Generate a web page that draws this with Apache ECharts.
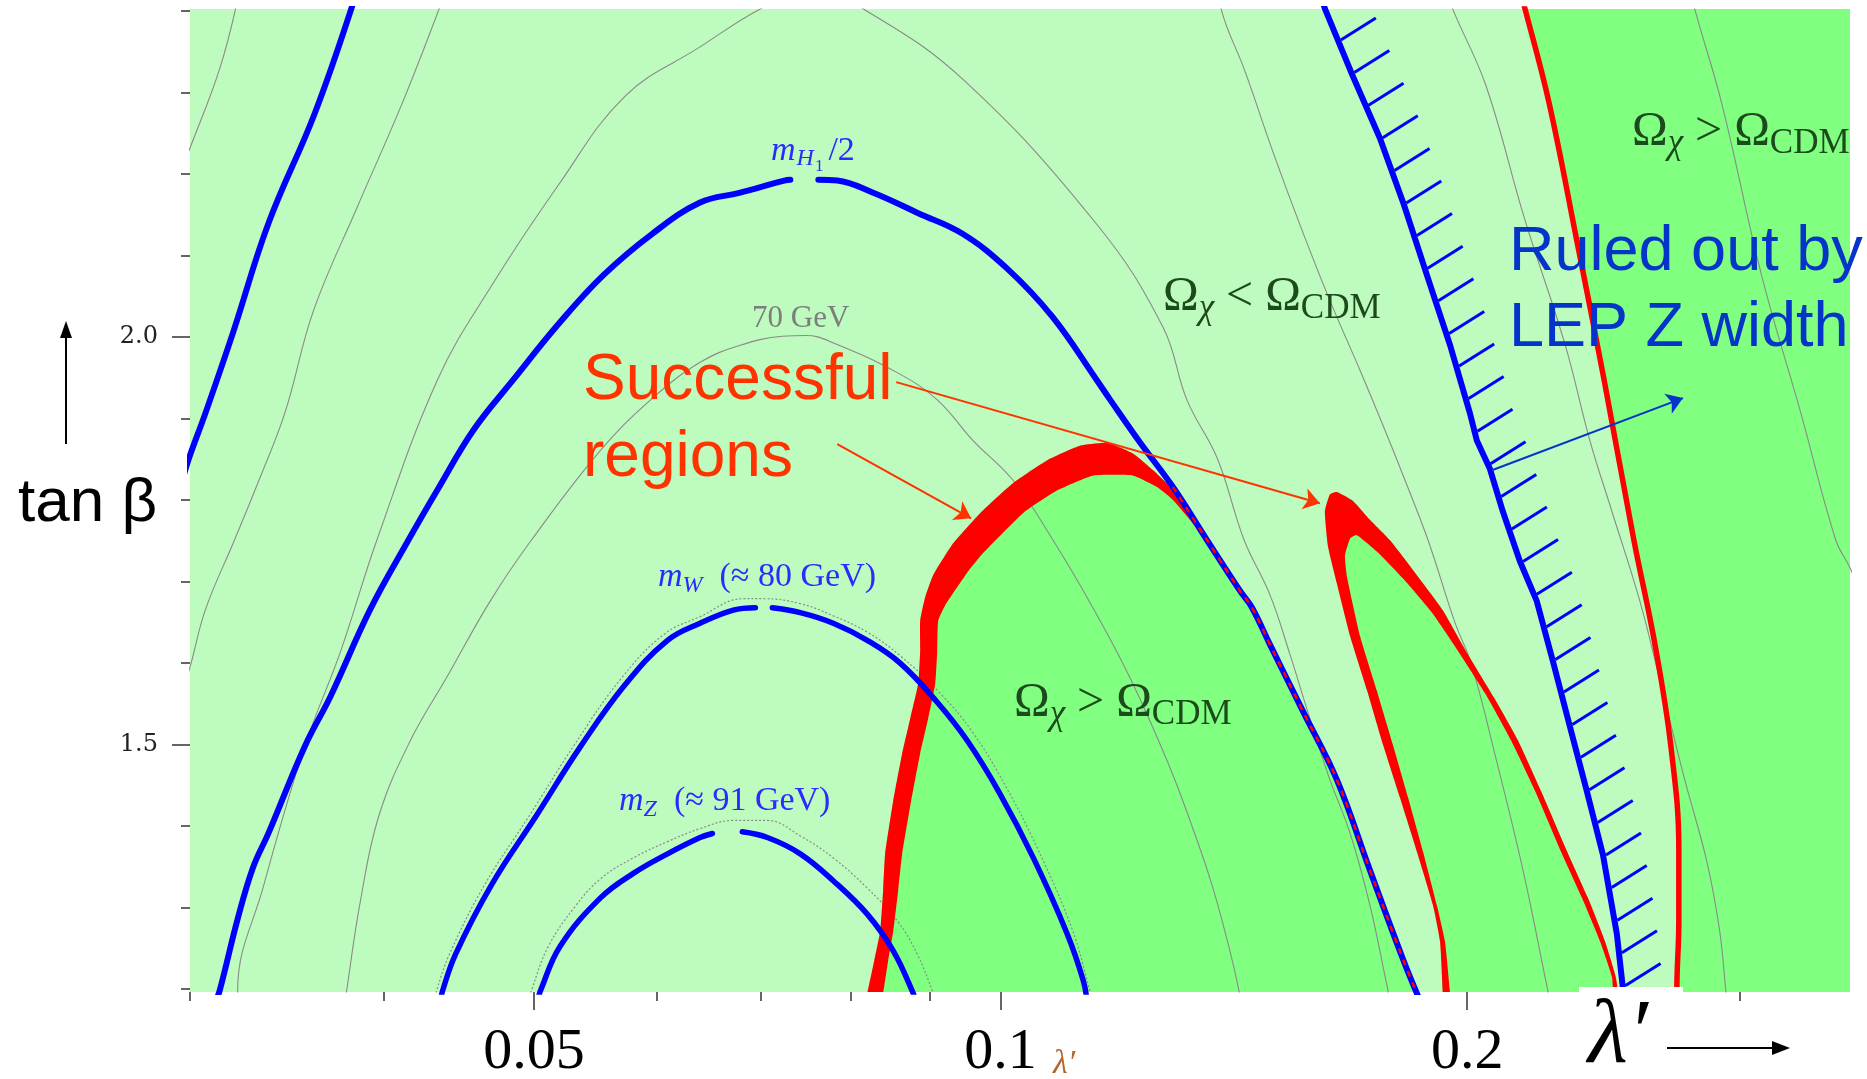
<!DOCTYPE html>
<html><head><meta charset="utf-8">
<script src="https://cdn.jsdelivr.net/npm/echarts@6/dist/echarts.min.js"></script>
<style>html,body{margin:0;padding:0;background:#fff}#c{width:1867px;height:1079px}</style>
</head><body><div id="c"></div>
<script>
// ---------- axis ticks ----------
const xTickValues = [0.03,0.04,0.05,0.06,0.07,0.08,0.09,0.1,0.2,0.3];
const xMajorTicks = [0.05,0.1,0.2];
const xTickLabels = ['0.05','0.1','0.2'];
const yTickValues = [1.2,1.3,1.4,1.5,1.6,1.7,1.8,1.9,2.0,2.1,2.2,2.3,2.4];
const yMajorTicks = [1.5,2.0];
const yTickLabels = ['1.5','2.0'];
const X_MIN = 0.03, X_MAX = 0.3532, Y_MIN = 1.1965, Y_MAX = 2.4025;

// ---------- curves: [lambda', tan beta] ----------
const blueB1 = [[0.0382,2.408],[0.0361,2.274],[0.0337,2.139],[0.0320,2.007],[0.0307,1.907],[0.0300,1.855],[0.02972,1.830]];
const blueMH = [[0.03116,1.1855],[0.03135,1.198],[0.0322,1.286],[0.03294,1.349],[0.03372,1.392],[0.03557,1.4975],[0.03698,1.560],[0.03921,1.666],[0.0415,1.751],[0.04334,1.813],[0.04571,1.886],[0.04851,1.948],[0.05186,2.016],[0.05544,2.076],[0.05964,2.127],[0.0640,2.165],[0.06784,2.177],[0.07253,2.192],[0.07318,2.193],null,[0.07629,2.193],[0.07847,2.192],[0.08277,2.177],[0.08849,2.152],[0.09446,2.127],[0.1010,2.084],[0.1080,2.025],[0.1153,1.948],[0.1177,1.923],[0.1231,1.870],[0.1292,1.816],[0.1359,1.751],[0.1427,1.689],[0.1453,1.668],[0.1492,1.623],[0.1567,1.541],[0.1648,1.457],[0.1731,1.346],[0.1818,1.237],[0.1865,1.1855]];
const blueMW = [[0.04353,1.1855],[0.04366,1.198],[0.04451,1.243],[0.04695,1.328],[0.05019,1.413],[0.05358,1.4975],[0.05728,1.574],[0.06098,1.628],[0.0640,1.649],[0.06724,1.665],[0.06948,1.668],null,[0.07125,1.668],[0.07427,1.662],[0.0780,1.649],[0.08204,1.628],[0.08615,1.600],[0.09103,1.552],[0.09517,1.505],[0.0999,1.440],[0.1050,1.361],[0.1104,1.268],[0.1131,1.210],[0.1137,1.1855]];
const blueMZ = [[0.05027,1.1855],[0.05049,1.198],[0.0520,1.253],[0.0552,1.312],[0.05796,1.342],[0.06098,1.366],[0.0640,1.386],[0.06518,1.391],null,[0.06814,1.393],[0.07073,1.386],[0.07427,1.366],[0.0780,1.333],[0.08204,1.292],[0.08527,1.247],[0.08783,1.195],[0.0881,1.1855]];
const blueZW = [[0.1612,2.414],[0.1619,2.403],[0.1686,2.322],[0.1757,2.244],[0.1821,2.162],[0.1884,2.076],[0.1950,1.990],[0.2008,1.907],[0.2029,1.873],[0.2069,1.838],[0.2109,1.786],[0.2163,1.725],[0.2218,1.676],[0.2272,1.602],[0.2330,1.522],[0.2389,1.443],[0.2447,1.365],[0.2498,1.268],[0.2520,1.203],[0.2524,1.1855]];
const redRight = [[0.2170,2.414],[0.2180,2.402],[0.2259,2.287],[0.2354,2.118],[0.2451,1.948],[0.2562,1.751],[0.2643,1.624],[0.2707,1.4975],[0.2739,1.371],[0.2739,1.284],[0.2731,1.198],[0.2731,1.1855]];
const rightEdge = [[0.36,1.18],[0.36,2.42]];
const redArchOuter = [[0.08167,1.1855],[0.08204,1.195],[0.0829,1.235],[0.08363,1.271],[0.0840,1.321],[0.08425,1.366],[0.08527,1.431],[0.08641,1.489],[0.08745,1.532],[0.08849,1.575],[0.08875,1.615],[0.08875,1.652],[0.08942,1.681],[0.09049,1.708],[0.09321,1.747],[0.09702,1.784],[0.1019,1.821],[0.1072,1.849],[0.1126,1.867],[0.1172,1.870],[0.1218,1.857],[0.1254,1.837],[0.1287,1.816]];
const redArchInner = [[0.08363,1.1855],[0.0840,1.195],[0.08463,1.235],[0.08527,1.271],[0.0859,1.321],[0.08641,1.366],[0.08757,1.431],[0.08875,1.489],[0.08981,1.532],[0.09076,1.575],[0.09103,1.615],[0.09116,1.652],[0.09211,1.671],[0.09321,1.686],[0.09517,1.711],[0.09745,1.735],[0.1034,1.784],[0.1088,1.812],[0.1147,1.830],[0.1218,1.830],[0.1262,1.816],[0.1292,1.800],[0.1359,1.751]];
const loopOuter = [[0.1929,1.1855],[0.1929,1.195],[0.1921,1.259],[0.1901,1.303],[0.1856,1.369],[0.1810,1.435],[0.1765,1.500],[0.1724,1.566],[0.1681,1.633],[0.1648,1.698],[0.1627,1.742],[0.1619,1.786],[0.1631,1.807],[0.1648,1.810],[0.1688,1.799],[0.1731,1.776],[0.1783,1.751],[0.1851,1.711],[0.1929,1.665],[0.2002,1.611],[0.2081,1.558],[0.2157,1.505],[0.2232,1.443],[0.2320,1.369],[0.2393,1.312],[0.2454,1.259],[0.2494,1.215],[0.2505,1.1855]];
const loopInner = [[0.1952,1.1855],[0.1950,1.195],[0.1935,1.259],[0.1912,1.303],[0.1873,1.369],[0.1832,1.435],[0.1791,1.500],[0.1749,1.566],[0.1706,1.633],[0.1673,1.706],[0.1668,1.732],[0.1681,1.753],[0.1698,1.757],[0.1749,1.737],[0.1818,1.704],[0.1898,1.662],[0.1973,1.615],[0.2054,1.563],[0.2135,1.505],[0.2215,1.441],[0.2299,1.369],[0.2372,1.312],[0.2436,1.259],[0.2480,1.215],[0.2487,1.1855]];
const greyG1 = [[0.0322,2.414],[0.03135,2.329],[0.0300,2.232],[0.02977,2.217]];
const greyG2 = [[0.04366,2.414],[0.04112,2.287],[0.03847,2.160],[0.03605,2.033],[0.03454,1.907],[0.03323,1.824],[0.03205,1.751],[0.0307,1.666],[0.0300,1.595],[0.02977,1.576]];
const greyG3 = [[0.03235,1.1855],[0.0322,1.198],[0.03348,1.328],[0.03557,1.4975],[0.03753,1.615],[0.0396,1.751],[0.04334,1.948],[0.04695,2.063],[0.05183,2.186],[0.05728,2.296],[0.0640,2.356],[0.06989,2.402],[0.07561,2.429],[0.08167,2.402],[0.09446,2.317],[0.1153,2.139],[0.1273,2.012],[0.1319,1.923],[0.1380,1.851],[0.1436,1.751],[0.1492,1.684],[0.1537,1.611],[0.1584,1.531],[0.1631,1.457],[0.1681,1.391],[0.1731,1.303],[0.1776,1.203],[0.1783,1.1855]];
const grey70 = [[0.0378,1.1855],[0.03786,1.198],[0.03864,1.308],[0.03972,1.413],[0.04162,1.505],[0.04391,1.582],[0.04689,1.677],[0.04982,1.751],[0.0552,1.861],[0.05947,1.923],[0.0640,1.969],[0.06794,1.990],[0.07231,2.001],[0.07494,2.002],[0.07754,1.995],[0.08565,1.957],[0.09103,1.923],[0.0960,1.873],[0.1019,1.824],[0.1081,1.751],[0.1147,1.668],[0.1212,1.582],[0.1281,1.480],[0.1325,1.407],[0.1369,1.328],[0.1406,1.247],[0.1425,1.198],[0.1427,1.1855]];
const grey80 = [[0.04314,1.1855],[0.04327,1.198],[0.04411,1.243],[0.04647,1.328],[0.04967,1.413],[0.05311,1.500],[0.05686,1.580],[0.06063,1.635],[0.0640,1.657],[0.06825,1.679],[0.0703,1.679],[0.07427,1.673],[0.0780,1.658],[0.08204,1.638],[0.08615,1.609],[0.09143,1.563],[0.09587,1.516],[0.1007,1.450],[0.1058,1.370],[0.1112,1.274],[0.1142,1.198],[0.1146,1.1855]];
const grey90 = [[0.04967,1.1855],[0.04982,1.198],[0.0511,1.253],[0.05319,1.302],[0.0552,1.3354],[0.05796,1.361],[0.06098,1.381],[0.0640,1.397],[0.06724,1.407],[0.07073,1.407],[0.07427,1.388],[0.0780,1.361],[0.08204,1.324],[0.08577,1.284],[0.08836,1.243],[0.09049,1.195],[0.09076,1.1855]];
const greyR1 = [[0.1386,2.414],[0.1388,2.402],[0.1438,2.326],[0.1497,2.230],[0.1560,2.138],[0.1631,2.045],[0.1706,1.959],[0.1770,1.886],[0.1824,1.824],[0.1887,1.751],[0.1964,1.650],[0.2014,1.597],[0.2090,1.479],[0.2173,1.346],[0.2252,1.203],[0.2262,1.1855]];
const greyR2 = [[0.1952,2.414],[0.1958,2.402],[0.2057,2.308],[0.2179,2.144],[0.2313,1.991],[0.2400,1.873],[0.2480,1.786],[0.2585,1.676],[0.2663,1.579],[0.2764,1.456],[0.2855,1.357],[0.2910,1.272],[0.2937,1.198],[0.2941,1.1855]];
const greyR3 = [[0.2800,2.414],[0.2805,2.402],[0.2919,2.287],[0.3097,2.076],[0.3283,1.907],[0.3458,1.751],[0.3532,1.717],[0.358,1.689]];
// annotation arrows [from, to]
const arrowsRed = [[[0.07847,1.8686],[0.09573,1.7776]],[[0.08565,1.9447],[0.1607,1.7961]]];
const arrowsBlue = [[[0.2075,1.8366],[0.2756,1.9251]]];

// ---------- colours / styles ----------
const C = {light:'#BEFBBE', dark:'#80FF80', red:'#FF0000', blue:'#0000FF', grey:'#8a8a8a',
  note:'#FF3300', noteBlue:'#0535C8', omega:'#1c4a1c', label:'#2b2bff'};
const HATCH = {y0:40, step:32.6, dx:35, dy:-22, off:3, width:3};

const L = p => p ? [Math.log10(p[0]), p[1]] : ['-','-'];

function lineS(pts, color, width, z, extra) {
  return Object.assign({type:'line', data: pts.map(L), symbol:'none', smooth:0.4, z,
    silent:true, clip:true, animation:false,
    lineStyle:{color, width, cap:'round', join:'round'}}, extra || {});
}
function polyS(pts, color, z) {
  const data = pts.map(L);
  return {type:'custom', data, z, silent:true, clip:true, animation:false, encode:{x:0,y:1},
    renderItem:(params, api) => {
      if (params.dataIndex !== 0) return null;
      return {type:'polygon', shape:{points: data.map(d => api.coord(d)), smooth:0.15}, style:{fill:color}};
    }};
}
function hatchS(pts, z) {
  const data = pts.map(L);
  return {type:'custom', data, z, silent:true, clip:true, animation:false, encode:{x:0,y:1},
    renderItem:(params, api) => {
      if (params.dataIndex !== 0) return null;
      const P = data.map(d => api.coord(d));
      const children = [];
      for (let k = 0; k < 40; k++) {
        const yy = HATCH.y0 + k * HATCH.step;
        for (let i = 0; i < P.length - 1; i++) {
          const a = P[i], b = P[i+1];
          if ((a[1]-yy)*(b[1]-yy) <= 0 && a[1] !== b[1]) {
            const f = (yy - a[1]) / (b[1] - a[1]);
            const x = a[0] + f*(b[0]-a[0]) + HATCH.off;
            children.push({type:'line', shape:{x1:x, y1:yy, x2:x+HATCH.dx, y2:yy+HATCH.dy},
              style:{stroke:C.blue, lineWidth:HATCH.width}});
            break;
          }
        }
      }
      return {type:'group', children};
    }};
}
function arrowS(list, color) {
  return {type:'lines', coordinateSystem:'cartesian2d', z:20, silent:true, animation:false,
    symbol:['none','arrow'], symbolSize:16,
    lineStyle:{color, width:2, opacity:1},
    data: list.map(seg => ({coords: seg.map(L)}))};
}

const regionArch = redArchOuter.concat(blueMH.filter(p => p && p[0] > 0.13));
const bandArch = redArchOuter.concat(redArchInner.slice().reverse());
const bandLoop = loopOuter.concat(loopInner.slice().reverse());
const regionRight = redRight.concat(rightEdge);
const redOnBlue = blueMH.filter(p => p && p[0] >= 0.1287);

const series = [
  polyS(regionRight, C.dark, 1),
  polyS(regionArch, C.dark, 1),
  polyS(loopOuter, C.dark, 1),
  lineS(greyG1, C.grey, 1.1, 2),
  lineS(greyG2, C.grey, 1.1, 2),
  lineS(greyG3, C.grey, 1.1, 2),
  lineS(grey70, C.grey, 1.1, 2),
  lineS(grey80, C.grey, 1.2, 2, {lineStyle:{color:C.grey, width:1.2, type:[2,2]}}),
  lineS(grey90, C.grey, 1.2, 2, {lineStyle:{color:C.grey, width:1.2, type:[2,2]}}),
  lineS(greyR1, C.grey, 1.1, 2),
  lineS(greyR2, C.grey, 1.1, 2),
  lineS(greyR3, C.grey, 1.1, 2),
  polyS(bandArch, C.red, 3),
  polyS(bandLoop, C.red, 3),
  lineS(redRight, C.red, 5.5, 3),
  lineS(blueB1, C.blue, 6, 4),
  lineS(blueMH, C.blue, 6, 4),
  lineS(blueMW, C.blue, 5.5, 4),
  lineS(blueMZ, C.blue, 5.5, 4),
  lineS(blueZW, C.blue, 6, 4, {smooth:false}),
  hatchS(blueZW, 4),
  lineS(redOnBlue, C.red, 2.5, 5, {lineStyle:{color:C.red, width:2.5, type:[6,6]}}),
  arrowS(arrowsRed, C.note),
  arrowS(arrowsBlue, C.noteBlue)
];

function rich(text, x, y, richStyles) {
  return {type:'text', x, y, z:50, silent:true,
    style:{text, align:'left', verticalAlign:'middle', rich: richStyles}};
}
const serif = '"Liberation Serif", "Times New Roman", serif';
const sans = '"Liberation Sans", Arial, sans-serif';
const omegaRich = {
  m:{fontFamily:serif, fontSize:48, lineHeight:48, padding:[0,0,8,0], fill:C.omega},
  c:{fontFamily:serif, fontSize:35, fontStyle:'italic', lineHeight:35, padding:[18,0,3,0], fill:C.omega},
  s:{fontFamily:serif, fontSize:35, lineHeight:35, padding:[18,0,3,0], fill:C.omega}
};
const massRich = {
  m:{fontFamily:serif, fontSize:34, fontStyle:'italic', lineHeight:34, padding:[0,0,6,0], fill:C.label},
  s:{fontFamily:serif, fontSize:24, fontStyle:'italic', lineHeight:24, padding:[14,0,2,0], fill:C.label},
  n:{fontFamily:serif, fontSize:34, lineHeight:34, padding:[0,0,6,0], fill:C.label}
};
const hRich = {
  m:{fontFamily:serif, fontSize:34, fontStyle:'italic', lineHeight:34, padding:[0,0,10,0], fill:C.label},
  h:{fontFamily:serif, fontSize:24, fontStyle:'italic', lineHeight:24, padding:[13,0,7,1], fill:C.label},
  o:{fontFamily:serif, fontSize:17, lineHeight:17, padding:[24,0,3,1], fill:C.label},
  n:{fontFamily:serif, fontSize:34, lineHeight:34, padding:[0,0,10,5], fill:C.label}
};

const graphic = [
  rich('{m|Ω}{c|χ}{m| > Ω}{s|CDM}', 1014, 707, omegaRich),
  rich('{m|Ω}{c|χ}{m| < Ω}{s|CDM}', 1163, 301, omegaRich),
  rich('{m|Ω}{c|χ}{m| > Ω}{s|CDM}', 1632, 136, omegaRich),
  rich('{m|m}{s|W}{n|  (≈ 80 GeV)}', 658, 580, massRich),
  rich('{m|m}{s|Z}{n|  (≈ 91 GeV)}', 619, 804, massRich),
  rich('{m|m}{h|H}{o|1}{n|/2}', 771, 156, hRich),
  {type:'text', x:752, y:319, z:50, silent:true, style:{text:'70 GeV', font:'31px '+serif, fill:'#7d7d7d', align:'left', verticalAlign:'middle'}},
  {type:'text', x:583, y:381, z:60, silent:true, style:{text:'Successful', font:'64px '+sans, fill:C.note, align:'left', verticalAlign:'middle'}},
  {type:'text', x:583, y:458, z:60, silent:true, style:{text:'regions', font:'64px '+sans, fill:C.note, align:'left', verticalAlign:'middle'}},
  {type:'text', x:1509, y:253, z:60, silent:true, style:{text:'Ruled out by', font:'63px '+sans, fill:C.noteBlue, align:'left', verticalAlign:'middle'}},
  {type:'text', x:1509, y:329, z:60, silent:true, style:{text:'LEP Z width', font:'63px '+sans, fill:C.noteBlue, align:'left', verticalAlign:'middle'}},
  {type:'text', x:18, y:504, z:60, silent:true, style:{text:'tan β', font:'62px '+sans, fill:'#000', align:'left', verticalAlign:'middle'}},
  {type:'line', z:60, silent:true, shape:{x1:66, y1:444, x2:66, y2:334}, style:{stroke:'#000', lineWidth:2}},
  {type:'polygon', z:60, silent:true, shape:{points:[[66,321],[60,338],[72,338]]}, style:{fill:'#000'}},
  {type:'rect', z:40, silent:true, shape:{x:1579, y:987, width:104, height:8}, style:{fill:'#fff'}},
  {type:'text', x:1618, y:1038, z:60, silent:true, style:{text:'λ′', font:'italic 92px '+serif, fill:'#000', align:'center', verticalAlign:'middle'}},
  {type:'line', z:60, silent:true, shape:{x1:1667, y1:1048, x2:1776, y2:1048}, style:{stroke:'#000', lineWidth:2}},
  {type:'polygon', z:60, silent:true, shape:{points:[[1790,1048],[1772,1041],[1772,1055]]}, style:{fill:'#000'}},
  {type:'text', x:1064, y:1064, z:60, silent:true, style:{text:'λ′', font:'italic 34px '+serif, fill:'#B8652A', align:'center', verticalAlign:'middle'}}
];

const lx = xTickValues.map(v => Math.log10(v));
const lxMaj = xMajorTicks.map(v => Math.log10(v));
const tickStyle = {color:'#333', width:1.5};
const option = {
  animation:false,
  backgroundColor:'#ffffff',
  grid:{left:190, right:17, top:9, bottom:87, show:true, backgroundColor:C.light, borderWidth:0, containLabel:false, outerBoundsMode:'none'},
  xAxis:[
    {type:'value', min:Math.log10(X_MIN), max:Math.log10(X_MAX), position:'bottom',
      axisLine:{show:false}, splitLine:{show:false},
      axisTick:{show:true, customValues:lx, length:9, lineStyle:tickStyle},
      axisLabel:{show:true, customValues:lxMaj, margin:39, lineHeight:44, color:'#000', fontFamily:serif, fontSize:58,
        formatter:v => { const lam = Math.pow(10, v); const i = xMajorTicks.findIndex(t => Math.abs(t-lam) < 1e-6); return i >= 0 ? xTickLabels[i] : ''; }}},
    {type:'value', min:Math.log10(X_MIN), max:Math.log10(X_MAX), position:'bottom',
      axisLine:{show:false}, splitLine:{show:false},
      axisTick:{show:true, customValues:lxMaj, length:18, lineStyle:tickStyle},
      axisLabel:{show:false}}
  ],
  yAxis:[
    {type:'value', min:Y_MIN, max:Y_MAX, position:'left',
      axisLine:{show:false}, splitLine:{show:false},
      axisTick:{show:true, customValues:yTickValues, length:9, lineStyle:tickStyle},
      axisLabel:{show:true, customValues:yMajorTicks, margin:32, color:'#222', fontFamily:'"DejaVu Serif", serif', fontSize:24,
        formatter:v => { const i = yMajorTicks.findIndex(t => Math.abs(t-v) < 1e-6); return i >= 0 ? yTickLabels[i] : ''; }}},
    {type:'value', min:Y_MIN, max:Y_MAX, position:'left',
      axisLine:{show:false}, splitLine:{show:false},
      axisTick:{show:true, customValues:yMajorTicks, length:18, lineStyle:tickStyle},
      axisLabel:{show:false}}
  ],
  series,
  graphic
};
const chart = echarts.init(document.getElementById('c'));
chart.setOption(option);
</script></body></html>
